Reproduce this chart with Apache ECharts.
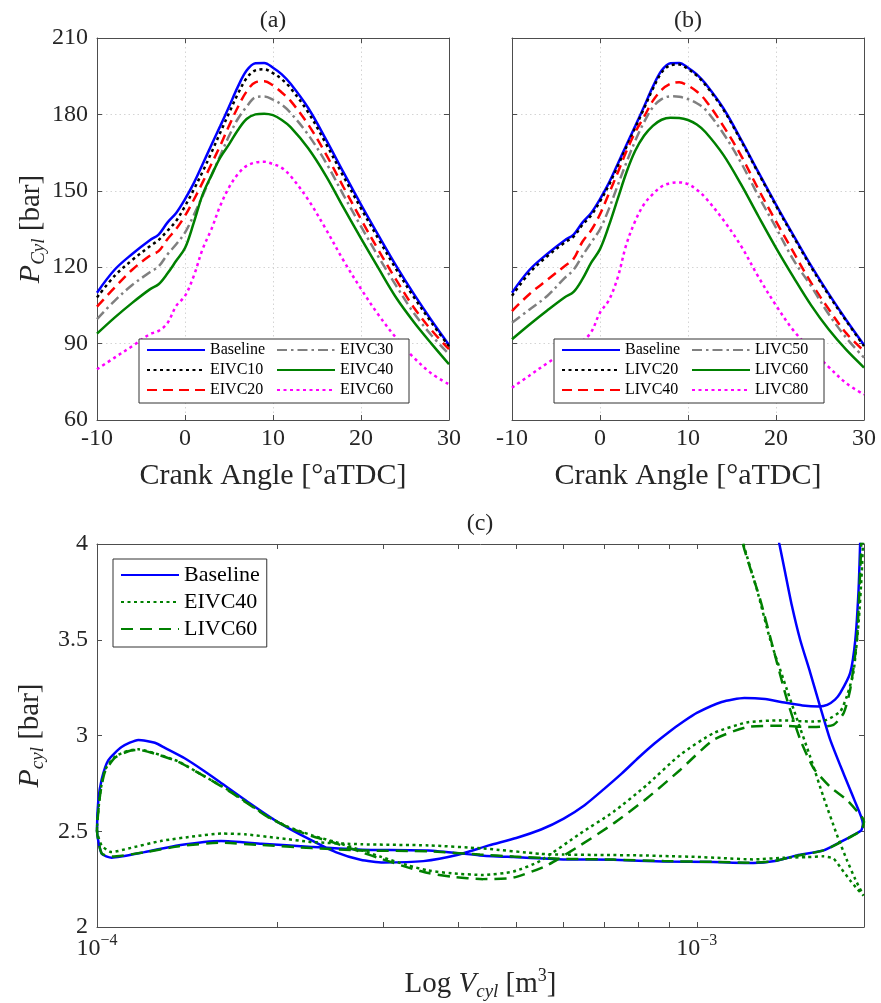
<!DOCTYPE html>
<html>
<head>
<meta charset="utf-8">
<script src="https://cdn.jsdelivr.net/npm/echarts@6/dist/echarts.min.js"></script>
<style>
  html, body { margin: 0; padding: 0; background: #fff; }
  #chart { width: 881px; height: 1003px; }
</style>
</head>
<body>
<div id="chart"></div>
<script>
// crank angle samples shared by panels (a) and (b)
const crankAngle = [-10, -8, -6, -4, -3, -2, -1, 0, 1, 2, 3, 4, 5, 6, 7, 8, 9, 10, 11, 12, 14, 16, 18, 20, 22, 24, 26, 28, 30];

// cylinder pressure [bar]
const baseline = [110, 119, 125.2, 130.6, 132.8, 137.5, 141.3, 146.7, 153, 160.4, 168, 175.4, 183, 190.8, 197.2, 200.1, 200.2, 198.3, 195.7, 192, 182.5, 170.3, 157.3, 144.6, 132.4, 120.5, 109.5, 99.2, 89.5];
const eivc10 = [108.1, 116.6, 122.8, 128.2, 130.7, 134.3, 138.2, 144, 150.5, 157.5, 165, 172.8, 180.5, 188, 194.2, 197.3, 197.7, 196.2, 193.8, 190.3, 180.8, 168.6, 155.7, 143.1, 131, 119.2, 108.3, 98.3, 88.9];
const eivc20 = [104.5, 112, 119, 124.5, 126.3, 131, 135, 140.2, 146.5, 153.3, 160.5, 167.7, 175.5, 182.8, 189, 192.6, 193, 191.4, 188.6, 185.3, 176, 164.5, 151.5, 138.8, 126.6, 115, 104.2, 95.3, 87.8];
const eivc30 = [99.6, 106.8, 113, 118, 120.3, 125, 129, 133.6, 140.5, 148, 156, 163.8, 171.5, 178.2, 183, 186.7, 187, 185.8, 183.8, 180.6, 172, 161.2, 148.4, 136, 124, 112.7, 102, 93.3, 85.8];
const eivc40 = [93.9, 100.2, 106, 111.3, 113.3, 117.5, 122.5, 127.5, 137.5, 148.5, 156, 163, 168.2, 173.8, 178.2, 180, 180.3, 179.7, 177.8, 175, 166.7, 156, 143.5, 131.3, 119.5, 108, 98.5, 90, 81.9];
const eivc60 = [79.9, 84.5, 89, 93.7, 95, 98, 104.8, 108.7, 116.6, 127.1, 134.9, 144.1, 151.3, 156.5, 159.8, 161.1, 161.4, 160.5, 159, 155.8, 146.5, 135, 122.7, 111.5, 101.2, 92.2, 84.5, 78.3, 74];

const livc20 = [108.8, 117.8, 124.3, 129.7, 132, 136.6, 140.4, 145.8, 152.2, 159.6, 167.2, 174.7, 182.3, 190, 196.4, 199.3, 199.6, 197.8, 195.2, 191.5, 182, 169.8, 156.9, 144.1, 131.9, 120, 109, 98.8, 89];
const livc40 = [102.8, 109.5, 115, 120.5, 123.3, 130, 134.5, 140.8, 148.8, 157, 165.5, 173, 179, 185.3, 189.6, 192, 192.6, 191.3, 189, 185.5, 175.5, 164, 150.6, 138, 125.8, 113.8, 103.5, 94, 87.1];
const livc50 = [98.2, 103.4, 108.7, 115.8, 119, 124.5, 129.7, 134.9, 142.8, 152, 161.1, 169.6, 176.9, 182.8, 186, 187.1, 186.9, 186, 184.4, 181.8, 172.6, 161.2, 148, 135.5, 122.8, 112.5, 101.5, 92.2, 84.5];
const livc60 = [91.7, 97.5, 103, 108.2, 110.3, 115.3, 121.8, 127.1, 136.2, 146.7, 157.2, 165.7, 171.6, 175.5, 177.9, 178.7, 178.6, 177.8, 176, 173, 164.2, 152.7, 140, 127.6, 116, 105, 95.5, 87.5, 80.6];
const livc80 = [72.7, 77.5, 82.3, 86.8, 89, 91, 94.5, 102.2, 107, 115.8, 129, 138.1, 144.7, 148.7, 151.7, 153, 153.3, 152.6, 150.4, 147.2, 138.6, 128.5, 116.2, 105, 95.1, 87.6, 80.8, 74.4, 70];

// panel (c): pumping loops, [volume m^3, pressure bar]
const pvBaseline = [
  [1.355e-3, 4.10], [1.373e-3, 4.00], [1.404e-3, 3.85], [1.44e-3, 3.68], [1.487e-3, 3.50], [1.545e-3, 3.33], [1.606e-3, 3.15], [1.668e-3, 2.98], [1.757e-3, 2.80], [1.83e-3, 2.665], [1.892e-3, 2.54],
  [1.88e-3, 2.505], [1.779e-3, 2.462], [1.626e-3, 2.40], [1.469e-3, 2.374], [1.35e-3, 2.345], [1.243e-3, 2.334], [1.066e-3, 2.339], [8.8e-4, 2.342], [7.26e-4, 2.351], [5.99e-4, 2.353], [4.95e-4, 2.365], [4.35e-4, 2.374], [3.57e-4, 2.40], [2.76e-4, 2.404], [2.28e-4, 2.418], [1.88e-4, 2.435], [1.61e-4, 2.449], [1.37e-4, 2.427], [1.2e-4, 2.391], [1.058e-4, 2.362], [1.018e-4, 2.383], [1.0e-4, 2.505],
  [1.005e-4, 2.66], [1.018e-4, 2.77], [1.044e-4, 2.87], [1.099e-4, 2.94], [1.172e-4, 2.977], [1.249e-4, 2.962], [1.3e-4, 2.934], [1.4e-4, 2.881], [1.5e-4, 2.82], [1.6e-4, 2.759], [1.8e-4, 2.645], [2.0e-4, 2.549], [2.25e-4, 2.461], [2.5e-4, 2.391], [2.75e-4, 2.351], [3.0e-4, 2.337], [3.5e-4, 2.344], [4.0e-4, 2.377], [4.5e-4, 2.426], [5.0e-4, 2.465], [5.5e-4, 2.509], [6.0e-4, 2.566], [6.5e-4, 2.636], [7.0e-4, 2.72], [7.5e-4, 2.802], [8.0e-4, 2.885], [8.5e-4, 2.958], [9.0e-4, 3.02], [9.5e-4, 3.073], [1.0e-3, 3.118], [1.1e-3, 3.175], [1.2e-3, 3.196], [1.3e-3, 3.19], [1.4e-3, 3.172], [1.5e-3, 3.157], [1.6e-3, 3.152], [1.65e-3, 3.16], [1.7e-3, 3.187], [1.735e-3, 3.222], [1.802e-3, 3.327], [1.838e-3, 3.502], [1.861e-3, 3.764], [1.872e-3, 4.0], [1.876e-3, 4.1]
];
const pvEIVC40 = [
  [1.18e-3, 4.10], [1.196e-3, 4.0], [1.259e-3, 3.764], [1.325e-3, 3.502], [1.395e-3, 3.292], [1.46e-3, 3.11], [1.545e-3, 2.89], [1.626e-3, 2.68], [1.713e-3, 2.48], [1.779e-3, 2.35], [1.837e-3, 2.25], [1.896e-3, 2.164],
  [1.85e-3, 2.20], [1.802e-3, 2.243], [1.734e-3, 2.313], [1.69e-3, 2.357], [1.626e-3, 2.369], [1.526e-3, 2.365], [1.4e-3, 2.362], [1.24e-3, 2.353], [1.1e-3, 2.36], [1.0e-3, 2.366], [9.0e-4, 2.37], [8.0e-4, 2.374], [7.0e-4, 2.376], [6.0e-4, 2.378], [5.5e-4, 2.382], [4.4e-4, 2.41], [3.57e-4, 2.426], [2.76e-4, 2.432], [2.28e-4, 2.444], [2.0e-4, 2.465], [1.765e-4, 2.484], [1.614e-4, 2.488], [1.457e-4, 2.474], [1.282e-4, 2.45], [1.128e-4, 2.41], [1.058e-4, 2.391], [1.018e-4, 2.426], [1.0e-4, 2.505],
  [1.012e-4, 2.697], [1.031e-4, 2.82], [1.072e-4, 2.89], [1.128e-4, 2.921], [1.172e-4, 2.928], [1.249e-4, 2.907], [1.367e-4, 2.864], [1.514e-4, 2.785], [1.656e-4, 2.715], [1.788e-4, 2.645], [1.931e-4, 2.575], [2.085e-4, 2.523], [2.28e-4, 2.479], [2.494e-4, 2.444], [2.763e-4, 2.40], [2.984e-4, 2.365], [3.306e-4, 2.321], [3.568e-4, 2.295], [3.903e-4, 2.28], [4.4e-4, 2.272], [4.95e-4, 2.29], [5.48e-4, 2.345], [6.39e-4, 2.488], [7.26e-4, 2.601], [8.25e-4, 2.741], [9.38e-4, 2.899], [1.066e-3, 3.012], [1.212e-3, 3.068], [1.377e-3, 3.079], [1.565e-3, 3.073], [1.647e-3, 3.082], [1.735e-3, 3.126], [1.779e-3, 3.205], [1.824e-3, 3.327], [1.861e-3, 3.589], [1.884e-3, 3.852], [1.892e-3, 4.0], [1.895e-3, 4.1]
];
const pvLIVC60 = [
  [1.185e-3, 4.10], [1.196e-3, 3.99], [1.275e-3, 3.712], [1.342e-3, 3.45], [1.413e-3, 3.19], [1.487e-3, 2.98], [1.565e-3, 2.83], [1.668e-3, 2.732], [1.779e-3, 2.663], [1.884e-3, 2.575], [1.9e-3, 2.55],
  [1.88e-3, 2.505], [1.779e-3, 2.46], [1.626e-3, 2.40], [1.469e-3, 2.372], [1.35e-3, 2.345], [1.243e-3, 2.336], [1.066e-3, 2.34], [8.8e-4, 2.344], [7.26e-4, 2.352], [5.99e-4, 2.356], [4.95e-4, 2.368], [4.35e-4, 2.378], [3.57e-4, 2.395], [2.76e-4, 2.40], [2.28e-4, 2.412], [1.88e-4, 2.428], [1.61e-4, 2.44], [1.37e-4, 2.422], [1.2e-4, 2.39], [1.058e-4, 2.368], [1.018e-4, 2.385], [1.0e-4, 2.505],
  [1.012e-4, 2.69], [1.031e-4, 2.81], [1.072e-4, 2.885], [1.128e-4, 2.918], [1.172e-4, 2.925], [1.249e-4, 2.905], [1.367e-4, 2.862], [1.514e-4, 2.785], [1.656e-4, 2.712], [1.788e-4, 2.642], [1.931e-4, 2.572], [2.085e-4, 2.52], [2.28e-4, 2.475], [2.494e-4, 2.438], [2.763e-4, 2.39], [2.984e-4, 2.355], [3.306e-4, 2.31], [3.568e-4, 2.282], [3.903e-4, 2.262], [4.4e-4, 2.25], [4.95e-4, 2.258], [5.62e-4, 2.321], [6.39e-4, 2.426], [7.26e-4, 2.54], [8.25e-4, 2.671], [9.38e-4, 2.82], [1.066e-3, 2.977], [1.212e-3, 3.044], [1.377e-3, 3.051], [1.565e-3, 3.044], [1.69e-3, 3.056], [1.757e-3, 3.117], [1.802e-3, 3.24], [1.849e-3, 3.502], [1.872e-3, 3.852], [1.88e-3, 4.0], [1.882e-3, 4.1]
];

const V_MIN = 1e-4, V_MAX = 1.9e-3;

const FONT = 'Liberation Serif';
const AX = '#4d4d4d';
const TXT = '#262626';
const DOT = [3, 3.5];
const DASH = [10, 6];
const DASHDOT = [10, 4, 2.5, 4];
const DASH_C = [12, 7];

const chart = echarts.init(document.getElementById('chart'));

const tick = { inside: true, length: 5, lineStyle: { color: AX, width: 1 } };
const axLine = { onZero: false, lineStyle: { color: AX, width: 1 } };
const gridLine = { show: true, lineStyle: { color: '#d4d4d4', type: [1.5, 3], width: 1 } };
const labelStyle = { fontFamily: FONT, fontSize: 24, color: TXT };

function pressureName(sub) {
  return {
    name: '{i|P}{s|' + sub + '}{n| [bar]}',
    nameLocation: 'middle',
    nameGap: 45,
    nameTextStyle: {
      fontFamily: FONT, color: TXT,
      rich: {
        i: { fontFamily: FONT, fontStyle: 'italic', fontSize: 30, lineHeight: 34, color: TXT, verticalAlign: 'middle' },
        s: { fontFamily: FONT, fontStyle: 'italic', fontSize: 19, lineHeight: 17, color: TXT, verticalAlign: 'bottom' },
        n: { fontFamily: FONT, fontSize: 29, lineHeight: 34, color: TXT, verticalAlign: 'middle' }
      }
    }
  };
}

// crank angle panels: bottom/top x, left/right y
function anglePanelAxes(gi, showY) {
  const xs = [
    { gridIndex: gi, type: 'value', min: -10, max: 30, interval: 10, position: 'bottom',
      axisLine: axLine, axisTick: tick, splitLine: gridLine,
      axisLabel: Object.assign({ margin: 7 }, labelStyle),
      name: 'Crank Angle [°aTDC]', nameLocation: 'middle', nameGap: 41,
      nameTextStyle: { fontFamily: FONT, fontSize: 30, color: TXT } },
    { gridIndex: gi, type: 'value', min: -10, max: 30, interval: 10, position: 'top',
      axisLine: axLine, axisTick: tick, axisLabel: { show: false }, splitLine: { show: false } }
  ];
  const left = { gridIndex: gi, type: 'value', min: 60, max: 210, interval: 30, position: 'left',
    axisLine: axLine, axisTick: tick, splitLine: gridLine,
    axisLabel: Object.assign({ show: showY, margin: 9 }, labelStyle) };
  if (showY) Object.assign(left, pressureName('Cyl'));
  const ys = [
    left,
    { gridIndex: gi, type: 'value', min: 60, max: 210, interval: 30, position: 'right',
      axisLine: axLine, axisTick: tick, axisLabel: { show: false }, splitLine: { show: false } }
  ];
  return { xs, ys };
}

const pa = anglePanelAxes(0, true);
const pb = anglePanelAxes(1, false);

// decade and minor tick positions on the log volume axis
const logTicks = [1, 2, 3, 4, 5, 6, 7, 8, 9, 10].map(k => Math.log10(k * V_MIN));

const xAxes = [
  pa.xs[0], pa.xs[1], pb.xs[0], pb.xs[1],
  { gridIndex: 2, type: 'log', logBase: 10, min: V_MIN, max: V_MAX, position: 'bottom',
    axisLine: axLine, axisTick: { show: false }, splitLine: { show: false },
    axisLabel: {
      showMaxLabel: false, margin: 6,
      formatter: v => '{b|10}{e|−' + Math.abs(Math.round(Math.log10(v))) + '}',
      rich: {
        b: { fontFamily: FONT, fontSize: 24, lineHeight: 32, color: TXT, verticalAlign: 'middle' },
        e: { fontFamily: FONT, fontSize: 16, lineHeight: 16, color: TXT, verticalAlign: 'top' }
      }
    },
    name: '{n|Log }{i|V}{s|cyl}{n| [m}{p|3}{n|]}', nameLocation: 'middle', nameGap: 40,
    nameTextStyle: {
      fontFamily: FONT, color: TXT,
      rich: {
        n: { fontFamily: FONT, fontSize: 29, lineHeight: 34, color: TXT, verticalAlign: 'middle' },
        i: { fontFamily: FONT, fontStyle: 'italic', fontSize: 29, lineHeight: 34, color: TXT, verticalAlign: 'middle' },
        s: { fontFamily: FONT, fontStyle: 'italic', fontSize: 19, lineHeight: 17, color: TXT, verticalAlign: 'bottom' },
        p: { fontFamily: FONT, fontSize: 18, lineHeight: 16, color: TXT, verticalAlign: 'top' }
      }
    } },
  { gridIndex: 2, type: 'value', min: Math.log10(V_MIN), max: Math.log10(V_MAX), position: 'bottom',
    axisLine: { show: false }, axisTick: Object.assign({ customValues: logTicks }, tick),
    axisLabel: { show: false }, splitLine: { show: false } },
  { gridIndex: 2, type: 'value', min: Math.log10(V_MIN), max: Math.log10(V_MAX), position: 'top',
    axisLine: axLine, axisTick: Object.assign({ customValues: logTicks }, tick),
    axisLabel: { show: false }, splitLine: { show: false } }
];

const yAxes = [
  pa.ys[0], pa.ys[1], pb.ys[0], pb.ys[1],
  Object.assign({ gridIndex: 2, type: 'value', min: 2, max: 4, interval: 0.5, position: 'left',
    axisLine: axLine, axisTick: tick, splitLine: { show: false },
    axisLabel: Object.assign({ margin: 9 }, labelStyle) }, pressureName('cyl')),
  { gridIndex: 2, type: 'value', min: 2, max: 4, interval: 0.5, position: 'right',
    axisLine: axLine, axisTick: tick, axisLabel: { show: false }, splitLine: { show: false } }
];

function angleSeries(name, values, color, dash, gi) {
  return {
    type: 'line', name, xAxisIndex: gi * 2, yAxisIndex: gi * 2,
    data: crankAngle.map((x, i) => [x, values[i]]),
    symbol: 'none', smooth: 0.35,
    lineStyle: { color, width: 2.5, type: dash, cap: 'butt' },
    itemStyle: { color }
  };
}

function loopSeries(name, pts, color, dash) {
  return {
    type: 'line', name, xAxisIndex: 4, yAxisIndex: 4,
    data: pts, symbol: 'none', smooth: 0.2,
    lineStyle: { color, width: 2.5, type: dash, cap: 'butt' },
    itemStyle: { color }
  };
}

const series = [
  angleSeries('Baseline', baseline, '#0000ff', 'solid', 0),
  angleSeries('EIVC10', eivc10, '#000000', DOT, 0),
  angleSeries('EIVC20', eivc20, '#ff0000', DASH, 0),
  angleSeries('EIVC30', eivc30, '#808080', DASHDOT, 0),
  angleSeries('EIVC40', eivc40, '#008000', 'solid', 0),
  angleSeries('EIVC60', eivc60, '#ff00ff', DOT, 0),
  angleSeries('Baseline', baseline, '#0000ff', 'solid', 1),
  angleSeries('LIVC20', livc20, '#000000', DOT, 1),
  angleSeries('LIVC40', livc40, '#ff0000', DASH, 1),
  angleSeries('LIVC50', livc50, '#808080', DASHDOT, 1),
  angleSeries('LIVC60', livc60, '#008000', 'solid', 1),
  angleSeries('LIVC80', livc80, '#ff00ff', DOT, 1),
  loopSeries('Baseline', pvBaseline, '#0000ff', 'solid'),
  loopSeries('EIVC40', pvEIVC40, '#008000', DOT),
  loopSeries('LIVC60', pvLIVC60, '#008000', DASH_C)
];

// legend symbol hidden, only the line sample is kept
const noSymbol = { opacity: 0, borderWidth: 0 };

function panelLegend(names, left) {
  return {
    data: names, left, top: 339, orient: 'vertical', height: 60, align: 'left',
    itemWidth: 58, itemHeight: 14, itemGap: 4, padding: [3, 7, 5, 7],
    backgroundColor: '#fff', borderColor: '#333', borderWidth: 1, borderRadius: 0,
    selectedMode: false, itemStyle: noSymbol,
    textStyle: { fontFamily: FONT, fontSize: 16, lineHeight: 16, color: '#000', width: 62 }
  };
}

const titleStyle = { fontFamily: FONT, fontSize: 24, fontWeight: 'normal', color: TXT };

chart.setOption({
  animation: false,
  backgroundColor: '#fff',
  title: [
    { text: '(a)', left: 273, top: 9, textAlign: 'center', padding: 0, textStyle: titleStyle },
    { text: '(b)', left: 688, top: 9, textAlign: 'center', padding: 0, textStyle: titleStyle },
    { text: '(c)', left: 480, top: 512, textAlign: 'center', padding: 0, textStyle: titleStyle }
  ],
  grid: [
    { left: 97, top: 38, width: 352, height: 382 },
    { left: 512, top: 38, width: 352, height: 382 },
    { left: 97, top: 544, width: 767, height: 383 }
  ],
  legend: [
    panelLegend(['Baseline', 'EIVC10', 'EIVC20', 'EIVC30', 'EIVC40', 'EIVC60'], 139),
    panelLegend(['Baseline', 'LIVC20', 'LIVC40', 'LIVC50', 'LIVC60', 'LIVC80'], 554),
    {
      data: [
        'Baseline',
        { name: 'EIVC40', lineStyle: { type: DOT } },
        { name: 'LIVC60', lineStyle: { type: DASH_C } }
      ],
      left: 113, top: 559, orient: 'vertical', align: 'left',
      itemWidth: 58, itemHeight: 14, itemGap: 5, padding: [5, 7, 7, 7],
      backgroundColor: '#fff', borderColor: '#333', borderWidth: 1,
      selectedMode: false, itemStyle: noSymbol,
      textStyle: { fontFamily: FONT, fontSize: 22, lineHeight: 22, color: '#000' }
    }
  ],
  xAxis: xAxes,
  yAxis: yAxes,
  series
});
</script>
</body>
</html>
